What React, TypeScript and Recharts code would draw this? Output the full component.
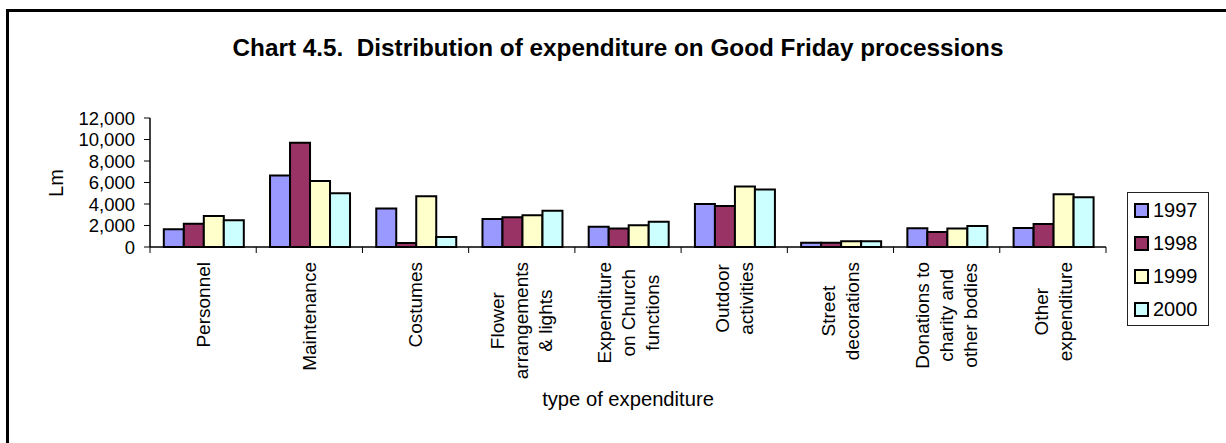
import React from 'react';
import { BarChart, Bar, XAxis, YAxis, Legend } from 'recharts';

const categoryLines: string[][] = [
  ['Personnel'],
  ['Maintenance'],
  ['Costumes'],
  ['Flower', 'arrangements', '& lights'],
  ['Expenditure', 'on Church', 'functions'],
  ['Outdoor', 'activities'],
  ['Street', 'decorations'],
  ['Donations to', 'charity and', 'other bodies'],
  ['Other', 'expenditure'],
];
const categories = categoryLines.map((l) => l.join(' '));

const years = ['1997', '1998', '1999', '2000'];
const v1997 = [1650, 6640, 3570, 2610, 1890, 4010, 400, 1740, 1770];
const v1998 = [2170, 9690, 370, 2770, 1710, 3820, 400, 1400, 2140];
const v1999 = [2890, 6150, 4720, 2950, 2020, 5620, 530, 1710, 4910];
const v2000 = [2490, 5000, 930, 3380, 2360, 5340, 530, 1960, 4630];
const yTicks = [0, 2000, 4000, 6000, 8000, 10000, 12000];
const colors = ['#9999FF', '#993366', '#FFFFCC', '#CCFFFF'];

const series = [v1997, v1998, v1999, v2000];
const data = categories.map((c, i) => {
  const row: Record<string, string | number> = { name: c };
  years.forEach((y, k) => {
    row[y] = series[k][i];
  });
  return row;
});

const FONT = "'Liberation Sans', Arial, sans-serif";
const TICK_FS = 19;

let ctx: CanvasRenderingContext2D | null = null;
function textWidth(s: string, font: string): number {
  if (!ctx && typeof document !== 'undefined') {
    ctx = document.createElement('canvas').getContext('2d');
  }
  if (!ctx) return s.length * 9;
  ctx.font = font;
  return ctx.measureText(s).width;
}

function CategoryTick(props: any) {
  const { x, y, payload } = props;
  const idx = categories.indexOf(payload.value);
  const lines = categoryLines[idx] || [String(payload.value)];
  const half = payload.offset ?? 53;
  const maxLen = Math.max(...lines.map((l) => textWidth(l, `${TICK_FS}px 'Liberation Sans'`)));
  const cy = y + 15 + maxLen / 2;
  const spacing = 24;
  const n = lines.length;
  return (
    <g>
      <line x1={x - half} x2={x - half} y1={y} y2={y + 6} stroke="#000" strokeWidth={1} />
      {idx === categories.length - 1 && (
        <line x1={x + half} x2={x + half} y1={y} y2={y + 6} stroke="#000" strokeWidth={1} />
      )}
      {lines.map((l, i) => {
        const lx = x + (i - (n - 1) / 2) * spacing;
        return (
          <text
            key={i}
            x={lx}
            y={cy}
            dy="0.35em"
            transform={`rotate(-90, ${lx}, ${cy})`}
            textAnchor="middle"
            fontSize={TICK_FS}
            fontFamily={FONT}
            fill="#000"
          >
            {l}
          </text>
        );
      })}
    </g>
  );
}

function LegendContent() {
  return (
    <div
      style={{
        border: '1px solid #222',
        background: '#fff',
        width: 82,
        height: 134,
        boxSizing: 'border-box',
        paddingTop: 1,
        fontFamily: FONT,
      }}
    >
      {years.map((y, i) => (
        <div key={y} style={{ display: 'flex', alignItems: 'center', height: 33, marginLeft: 6 }}>
          <svg width={16} height={16} style={{ display: 'block' }}>
            <rect x={1} y={1} width={13} height={13} fill={colors[i]} stroke="#000" strokeWidth={2} />
          </svg>
          <span style={{ fontSize: 20, marginLeft: 3, color: '#000' }}>{y}</span>
        </div>
      ))}
    </div>
  );
}

export default function App() {
  return (
    <div style={{ position: 'absolute', left: 0, top: 0, width: 1226, height: 443, background: '#fff' }}>
      <div
        style={{
          position: 'absolute',
          left: 6,
          top: 9,
          width: 1220,
          height: 434,
          borderTop: '3px solid #000',
          borderLeft: '3px solid #000',
          boxSizing: 'border-box',
        }}
      />
      <div
        style={{
          position: 'absolute',
          left: 0,
          top: 34,
          width: 1236,
          textAlign: 'center',
          fontFamily: FONT,
          fontWeight: 'bold',
          fontSize: 24.3,
          color: '#000',
          whiteSpace: 'pre',
        }}
      >
        {'Chart 4.5.  Distribution of expenditure on Good Friday processions'}
      </div>
      <div style={{ position: 'absolute', left: 0, top: 0 }}>
        <BarChart
          width={1226}
          height={443}
          data={data}
          margin={{ top: 118, right: 120, bottom: 36, left: 0 }}
          barCategoryGap="13%"
          barGap={0}
        >
          <XAxis
            dataKey="name"
            height={160}
            interval={0}
            tickSize={0}
            tickMargin={0}
            tickLine={false}
            axisLine={{ stroke: '#000', strokeWidth: 1.5 }}
            tick={<CategoryTick />}
            label={(p: any) => {
              const vb = p.viewBox || {};
              return (
                <text
                  x={vb.x + vb.width / 2}
                  y={406}
                  textAnchor="middle"
                  fontSize={20.2}
                  fontFamily={FONT}
                  fill="#000"
                >
                  type of expenditure
                </text>
              );
            }}
          />
          <YAxis
            width={150}
            domain={[0, 12000]}
            ticks={yTicks}
            interval={0}
            tickSize={6}
            tickMargin={9}
            tickLine={{ stroke: '#000', strokeWidth: 1 }}
            axisLine={{ stroke: '#000', strokeWidth: 1.5 }}
            tick={{ fill: '#000', fontSize: 18.5, fontFamily: FONT }}
            tickFormatter={(v: number) => v.toLocaleString('en-US')}
            label={() => (
              <text
                x={56}
                y={183}
                dy="0.35em"
                transform="rotate(-90, 56, 183)"
                textAnchor="middle"
                fontSize={20}
                fontFamily={FONT}
                fill="#000"
              >
                Lm
              </text>
            )}
          />
          <Legend
            layout="vertical"
            align="center"
            verticalAlign="middle"
            content={<LegendContent />}
            wrapperStyle={{ position: 'absolute', left: 1127, top: 192, width: 82, height: 134 }}
          />
          {years.map((y, i) => (
            <Bar key={y} dataKey={y} fill={colors[i]} stroke="#000" strokeWidth={2} isAnimationActive={false} />
          ))}
        </BarChart>
      </div>
    </div>
  );
}
